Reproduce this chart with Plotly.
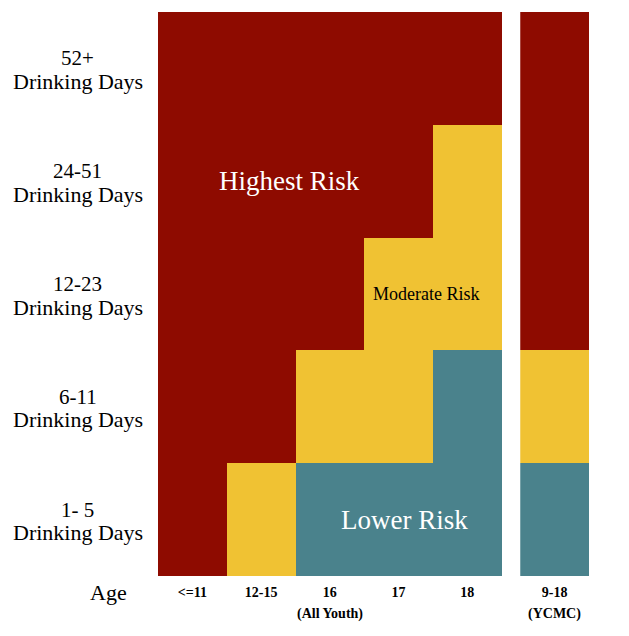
import plotly.graph_objects as go

# ---- data ----
age_groups = ["<=11", "12-15", "16", "17", "18"]
ycmc_group = ["9-18"]
day_bins = ["1- 5", "6-11", "12-23", "24-51", "52+"]
# risk level: 0 = lower, 1 = moderate, 2 = highest ; rows follow day_bins
risk_all_youth = [
    [2, 1, 0, 0, 0],
    [2, 2, 1, 1, 0],
    [2, 2, 2, 1, 1],
    [2, 2, 2, 2, 1],
    [2, 2, 2, 2, 2],
]
risk_ycmc = [[0], [1], [2], [2], [2]]
group_notes = {"16": "(All Youth)", "9-18": "(YCMC)"}
zone_labels = [
    ("Highest Risk", 1.41, 3, "white", 27),
    ("Moderate Risk", 3.4, 2, "black", 18),
    ("Lower Risk", 3.08, 0, "white", 27),
]

RED = "#8E0B00"
YELLOW = "#F0C233"
TEAL = "#4A828C"
colorscale = [[0, TEAL], [0.333, TEAL], [0.333, YELLOW], [0.667, YELLOW],
              [0.667, RED], [1, RED]]

FONT = "Liberation Serif, Times New Roman, serif"

x_main = list(range(len(age_groups)))
x_ycmc = [len(age_groups) + 0.27]
y_pos = list(range(len(day_bins)))

fig = go.Figure()
fig.add_trace(go.Heatmap(z=risk_all_youth, x=x_main, y=y_pos, zmin=0, zmax=2,
                         colorscale=colorscale, showscale=False, hoverinfo="skip"))
fig.add_trace(go.Heatmap(z=risk_ycmc, x=x_ycmc, y=y_pos, zmin=0, zmax=2,
                         colorscale=colorscale, showscale=False, hoverinfo="skip"))

LABEL_X = -0.186
annotations = []
# row labels
for yi, lab in zip(y_pos, day_bins):
    annotations.append(dict(x=LABEL_X, xref="paper", y=yi, yref="y", text=lab,
                            showarrow=False, xanchor="center", yanchor="middle",
                            yshift=10, font=dict(family=FONT, size=21, color="black")))
    annotations.append(dict(x=LABEL_X, xref="paper", y=yi, yref="y", text="Drinking Days",
                            showarrow=False, xanchor="center", yanchor="middle",
                            yshift=-13, font=dict(family=FONT, size=22, color="black")))
# Age label
annotations.append(dict(x=-0.114, xref="paper", y=-0.030, yref="paper", text="Age",
                        showarrow=False, xanchor="center", yanchor="middle",
                        font=dict(family=FONT, size=22, color="black")))
# group notes
all_x = x_main + x_ycmc
all_labels = age_groups + ycmc_group
for xv, lab in zip(all_x, all_labels):
    if lab in group_notes:
        annotations.append(dict(x=xv, xref="x", y=-0.0674, yref="paper",
                                text="<b>" + group_notes[lab] + "</b>", showarrow=False,
                                xanchor="center", yanchor="middle",
                                font=dict(family=FONT, size=14, color="black")))
# zone labels
for txt, xv, yv, col, sz in zone_labels:
    annotations.append(dict(x=xv, y=yv, xref="x", yref="y", text=txt, showarrow=False,
                            xanchor="center", yanchor="middle",
                            font=dict(family=FONT, size=sz, color=col)))

fig.update_layout(
    width=621, height=628,
    margin=dict(l=150, r=40, t=4, b=60),
    plot_bgcolor="white", paper_bgcolor="white",
    showlegend=False,
    annotations=annotations,
    xaxis=dict(range=[-0.5, len(age_groups) + 0.77], tickvals=all_x,
               ticktext=["<b>" + t + "</b>" for t in all_labels],
               showgrid=False, zeroline=False, showline=False, ticks="",
               ticklabelstandoff=6,
               tickfont=dict(family=FONT, size=14, color="black"), fixedrange=True),
    yaxis=dict(range=[-0.5, len(day_bins) - 0.5], showticklabels=False,
               showgrid=False, zeroline=False, showline=False, ticks="", fixedrange=True),
)

fig.write_html("out.html")
